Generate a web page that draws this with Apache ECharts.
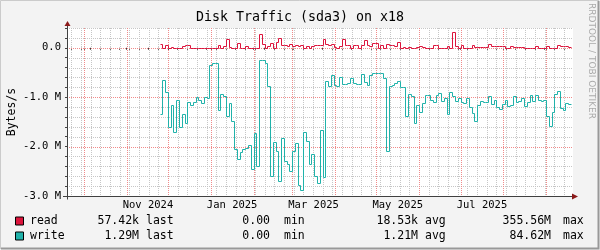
<!DOCTYPE html>
<html><head><meta charset="utf-8">
<script src="https://cdn.jsdelivr.net/npm/echarts@6/dist/echarts.min.js"></script>
<style>html,body{margin:0;padding:0;background:#f3f3f3}#c{width:600px;height:250px}</style>
</head><body><div id="c"></div>
<script>
// ---------- data ----------
const chartTitle = 'Disk Traffic (sda3) on x18';
const yAxisTitle = 'Bytes/s';
const watermark = 'RRDTOOL / TOBI OETIKER';
const seriesNames = ['read', 'write'];
const dataStartDate = '2024-11-25';
const stepDays = 2;
// read (plotted upward), in MB/s
const readValuesM = [
  0.08,0,0.05,0,0.02,0,0,0,0.045,0.065,
  0.065,0,0,0,0,0,0,0,0,0,
  0,0.065,0,0.03,0.17,0.02,0,0,0.09,0,
  0,0.03,0,0,0,0,0.28,0.07,0,0.03,
  0.09,0,0.12,0.2,0.05,0.06,0.04,0.07,0.04,0.06,
  0.04,0.06,0,0.03,0,0.04,0.065,0.065,0.065,0.17,
  0.07,0.05,0.08,0.02,0,0.03,0.17,0.05,0.06,0,
  0.06,0.06,0,0.05,0.15,0.05,0.04,0.1,0.1,0,
  0.05,0,0.08,0.05,0.05,0.04,0.12,0,0.02,0,
  0.02,0,0,0.02,0.03,0.01,0,0,0,0.065,
  0.065,0,0,0,0.03,0,0.32,0.04,0,0.065,
  0,0,0,0.065,0.025,0.025,0.025,0.025,0.02,0.08,
  0.04,0.03,0.03,0.04,0.03,0,0,0.04,0.02,0.02,
  0.02,0.02,0,0,0,0,0.04,0,0,0,
  0.04,0,0,0,0.06,0.04,0.03,0.04,0.02
];
// write (plotted downward), in MB/s
const writeValuesM = [
  1.35,0.65,0.9,1.6,1.15,1.7,1.05,1.6,1.35,1.52,
  1.1,1.15,1.1,1.0,1.05,1.12,1.0,1.02,0.35,0.31,
  0.31,1.25,0.94,0.98,1.39,1.12,1.49,2.05,2.25,2.1,
  2.05,2.02,1.96,2.46,1.72,2.4,0.25,0.25,0.31,0.78,
  2.6,1.9,2.09,2.7,1.83,2.3,2.36,2.5,2.09,1.93,
  2.77,2.87,1.7,1.89,2.36,2.16,2.6,2.73,1.66,2.62,
  0.68,0.78,0.55,0.75,0.78,0.6,0.73,0.73,0.72,0.62,
  0.72,0.74,0.73,0.53,0.69,0.75,0.55,0.51,0.51,0.51,
  0.51,0.61,2.09,0.78,0.75,0.72,0.68,0.8,0.8,1.39,
  0.93,0.98,1.52,1.15,1.29,1.12,0.95,0.95,1.05,1.1,
  0.95,0.92,1.07,1.01,1.35,0.9,0.98,1.07,1.02,1.1,
  1.12,1.02,1.2,1.32,1.49,1.15,1.07,1.1,1.1,0.98,
  1.14,1.05,1.2,1.24,1.14,1.06,1.17,1.15,0.98,1.1,
  1.07,1.02,1.18,1.1,0.95,1.07,0.95,1.05,1.07,1.05,
  1.39,1.59,1.3,0.94,0.88,1.22,1.25,1.12,1.14
];
const xRange = ['2024-09-18T20:00:00Z', '2025-09-20T12:00:00Z'];
const xLabelTexts = ['Nov 2024', 'Jan 2025', 'Mar 2025', 'May 2025', 'Jul 2025'];
const xLabelDates = ['2024-11-16T12:00:00Z', '2025-01-16T12:00:00Z', '2025-03-16T12:00:00Z', '2025-05-16T12:00:00Z', '2025-07-16T12:00:00Z'];
const yRangeM = [-3.0, 0.4];
const yLabelValuesM = [0, -1, -2, -3];
const yLabelTexts = ['0.0', '-1.0 M', '-2.0 M', '-3.0 M'];
const statNames = ['last', 'min', 'avg', 'max'];
const readStats = ['57.42k', '0.00', '18.53k', '355.56M'];
const writeStats = ['1.29M', '0.00', '1.21M', '84.62M'];

// ---------- styles ----------
const COL_READ = '#dc143c', COL_WRITE = '#20b2aa';
const MONO = "'DejaVu Sans Mono', monospace";
const G = {left: 67, top: 28, width: 506, height: 168};
const DAY = 86400000;

const t0 = Date.parse(dataStartDate + 'T00:00:00Z');
const xMin = Date.parse(xRange[0]), xMax = Date.parse(xRange[1]);
function buildSeries(vals, sign) {
  const d = vals.map((v, i) => [t0 + i * stepDays * DAY, sign * v * 1e6]);
  d.push([t0 + vals.length * stepDays * DAY, sign * vals[vals.length - 1] * 1e6]);
  return d;
}
// grid positions
const monthStarts = [];
for (let m = 8; ; m++) {
  const t = Date.UTC(2024, m, 1);
  if (t > xMax) break;
  if (t > xMin) monthStarts.push(t);
}
const weekLines = [];
for (let t = Date.UTC(2024, 8, 22); t < xMax; t += 7 * DAY) weekLines.push(t);
const yMinor = [];
for (let k = -15; k <= 2; k++) yMinor.push(Math.round(k * 0.2e6));
const yMajor = yLabelValuesM.map(v => v * 1e6);
const xLabelVals = xLabelDates.map(s => Date.parse(s));

const GRID_MINOR = '#c6c6c6', GRID_MAJOR = '#f08a8a';
const px = v => Math.round(v) + 0.5;
const gridLayer = {
  type: 'custom', silent: true, z: 1, animation: false, clip: false,
  data: [[xMin, yRangeM[0] * 1e6]],
  encode: {x: 0, y: 1},
  renderItem: (params, api) => {
    const cs = params.coordSys;
    const children = [];
    const vline = (t, color) => {
      const x = px(api.coord([t, 0])[0]);
      children.push({type: 'line', shape: {x1: x, y1: cs.y, x2: x, y2: cs.y + cs.height},
        style: {stroke: color, lineWidth: 1, lineDash: [1, 1], fill: null}});
    };
    const hline = (v, color) => {
      const y = px(api.coord([xMin, v])[1]);
      children.push({type: 'line', shape: {x1: cs.x, y1: y, x2: cs.x + cs.width, y2: y},
        style: {stroke: color, lineWidth: 1, lineDash: [1, 1], fill: null}});
    };
    weekLines.forEach(t => vline(t, GRID_MINOR));
    yMinor.forEach(v => hline(v, GRID_MINOR));
    monthStarts.forEach(t => vline(t, GRID_MAJOR));
    yMajor.forEach(v => hline(v, GRID_MAJOR));
    return {type: 'group', children};
  }
};

// crisp rrdtool-like step line through the axes' scales
function stepSeries(name, data, color, z) {
  return {
    name, type: 'custom', silent: true, z, animation: false, clip: false,
    data, encode: {x: 0, y: 1},
    renderItem: (params, api) => {
      const i = params.dataIndex;
      if (i >= data.length - 1) return null;
      const p = api.coord(data[i]);
      const pn = api.coord([data[i + 1][0], data[i][1]]);
      const pts = [];
      if (i > 0) pts.push([px(p[0]), px(api.coord(data[i - 1])[1])]);
      pts.push([px(p[0]), px(p[1])]);
      pts.push([px(pn[0]), px(pn[1])]);
      return {type: 'polyline', shape: {points: pts}, style: {stroke: color, lineWidth: 1, fill: null}};
    }
  };
}

const chart = echarts.init(document.getElementById('c'), null, {renderer: 'canvas'});
const textEl = (txt, x, y, size, align, extra) => Object.assign({
  type: 'text', x, y, silent: true,
  style: {text: txt, fontFamily: MONO, fontSize: size, fill: '#000', align: align || 'left', verticalAlign: 'middle'}
}, extra || {});

const legendRows = [[seriesNames[0], COL_READ, readStats, 221.5], [seriesNames[1], COL_WRITE, writeStats, 236.5]];
const statRight = [139, 270, 418, 551];
const statLabelLeft = [146, 284, 425, 563];
const graphics = [];
graphics.push({type: 'polyline', shape: {points: [[0.5, 249], [0.5, 0.5], [599, 0.5]]}, style: {stroke: '#cbcbcb', lineWidth: 1, fill: null}, silent: true});
graphics.push({type: 'polyline', shape: {points: [[1, 248.5], [598.5, 248.5], [598.5, 1]]}, style: {stroke: '#999', lineWidth: 2, fill: null}, silent: true});
graphics.push(textEl(chartTitle, 300, 18, 13.3, 'center'));
graphics.push(textEl(yAxisTitle, 12, 112, 11.5, 'center', {rotation: Math.PI / 2}));
graphics.push({type: 'text', x: 591, y: 61, rotation: -Math.PI / 2, silent: true,
  style: {text: watermark, fontFamily: "'DejaVu Sans', sans-serif", fontSize: 9, fill: '#aaaaaa', align: 'center', verticalAlign: 'middle'}});
legendRows.forEach(([name, col, stats, y]) => {
  graphics.push({type: 'rect', shape: {x: 15.5, y: y - 4.5, width: 8, height: 8}, style: {fill: col, stroke: '#000', lineWidth: 1}, silent: true});
  graphics.push(textEl(name, 30, y, 11.5, 'left'));
  stats.forEach((s, k) => {
    graphics.push(textEl(s, statRight[k], y, 11.5, 'right'));
    graphics.push(textEl(statNames[k], statLabelLeft[k], y, 11.5, 'left'));
  });
});
const AX = '#404040', ARR = '#8b1a1a';
const bx = G.left + 0.5, by = G.top + G.height + 0.5;
graphics.push({type: 'line', shape: {x1: G.left - 4, y1: by, x2: G.left + G.width + 2, y2: by}, style: {stroke: AX, lineWidth: 1}, silent: true, z: 20});
graphics.push({type: 'line', shape: {x1: bx, y1: by + 3, x2: bx, y2: G.top - 4}, style: {stroke: AX, lineWidth: 1}, silent: true, z: 20});
graphics.push({type: 'polygon', shape: {points: [[bx - 3, G.top - 2], [bx + 3, G.top - 2], [bx, G.top - 7]]}, style: {fill: ARR}, silent: true, z: 21});
graphics.push({type: 'polygon', shape: {points: [[G.left + G.width - 1, by - 3], [G.left + G.width - 1, by + 3], [G.left + G.width + 5, by]]}, style: {fill: ARR}, silent: true, z: 21});

chart.setOption({
  animation: false,
  backgroundColor: '#f3f3f3',
  grid: Object.assign({show: true, backgroundColor: '#ffffff', borderWidth: 0}, G),
  xAxis: {
    type: 'value', min: xMin, max: xMax,
    axisLine: {show: false},
    axisTick: {show: true, length: 2, customValues: weekLines.concat(monthStarts), lineStyle: {color: AX}},
    axisLabel: {customValues: xLabelVals, formatter: v => { const i = xLabelVals.indexOf(v); return i >= 0 ? xLabelTexts[i] : ''; },
      fontFamily: MONO, fontSize: 10.5, color: '#000', margin: 4, showMinLabel: true, showMaxLabel: true},
    splitLine: {show: false}
  },
  yAxis: {
    type: 'value', min: yRangeM[0] * 1e6, max: yRangeM[1] * 1e6,
    axisLine: {show: false},
    axisTick: {show: true, length: 2, customValues: yMinor, lineStyle: {color: AX}},
    axisLabel: {customValues: yMajor, formatter: v => { const i = yMajor.indexOf(v); return i >= 0 ? yLabelTexts[i] : ''; },
      fontFamily: MONO, fontSize: 10.5, color: '#000', margin: 6},
    splitLine: {show: false}
  },
  series: [
    gridLayer,
    stepSeries(seriesNames[0], buildSeries(readValuesM, 1), COL_READ, 5),
    stepSeries(seriesNames[1], buildSeries(writeValuesM, -1), COL_WRITE, 6)
  ],
  graphic: {elements: graphics}
});
</script></body></html>
